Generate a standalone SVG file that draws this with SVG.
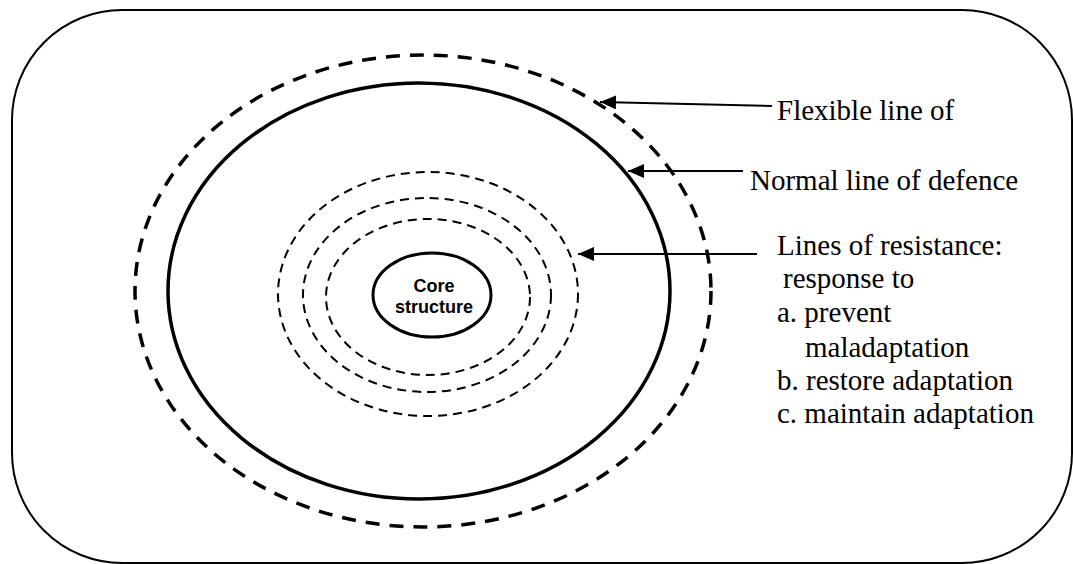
<svg xmlns="http://www.w3.org/2000/svg" width="1073" height="564" viewBox="0 0 1073 564">
  <style>
    .frame { fill: #fff; stroke: #000; stroke-width: 2; }
    .flex { fill: none; stroke: #000; stroke-width: 3.5; stroke-dasharray: 14 10; }
    .normal { fill: none; stroke: #000; stroke-width: 3.5; }
    .resist { fill: none; stroke: #000; stroke-width: 2; stroke-dasharray: 9 6; }
    .core { fill: #fff; stroke: #000; stroke-width: 3; }
    .lbl { font-family: "Liberation Serif", "Times New Roman", serif; font-size: 29px; fill: #000; }
    .corelbl { font-family: "Liberation Sans", Arial, sans-serif; font-size: 18px; font-weight: bold; fill: #000; text-anchor: middle; }
    .arrow { stroke: #000; stroke-width: 2; fill: none; }
  </style>
  <defs>
    <!-- filled triangular arrowhead, tip at the line end -->
    <marker id="head" viewBox="0 0 16 14" refX="16" refY="7" markerWidth="16" markerHeight="14" markerUnits="userSpaceOnUse" orient="auto">
      <path d="M16,7 L0,0 L0,14 Z" fill="#000"/>
    </marker>
  </defs>

  <!-- outer boundary -->
  <rect id="boundary" class="frame" x="12" y="10" width="1060" height="553" rx="110" ry="110"/>

  <!-- concentric lines -->
  <g id="flexible-line"><ellipse class="flex" cx="423" cy="291" rx="288" ry="236"/></g>
  <g id="normal-line"><ellipse class="normal" cx="419" cy="291" rx="251" ry="208"/></g>
  <g id="resistance-lines">
    <ellipse class="resist" cx="428" cy="294" rx="150" ry="122"/>
    <ellipse class="resist" cx="427" cy="295" rx="124" ry="97"/>
    <ellipse class="resist" cx="428" cy="297" rx="102" ry="78"/>
  </g>
  <g id="core">
    <ellipse class="core" cx="432" cy="295" rx="59" ry="42"/>
    <text class="corelbl" x="434" y="292">Core</text>
    <text class="corelbl" x="434" y="313">structure</text>
  </g>

  <!-- connectors -->
  <g id="connectors">
    <line class="arrow" x1="772" y1="106" x2="600" y2="102" marker-end="url(#head)"/>
    <line class="arrow" x1="743" y1="171" x2="628" y2="171" marker-end="url(#head)"/>
    <line class="arrow" x1="757" y1="254" x2="578" y2="254" marker-end="url(#head)"/>
  </g>

  <!-- labels -->
  <g id="label-flexible"><text class="lbl" x="777" y="120">Flexible line of</text></g>
  <g id="label-normal"><text class="lbl" x="750" y="190">Normal line of defence</text></g>
  <g id="label-resistance">
    <text class="lbl" x="777" y="255">Lines of resistance:</text>
    <text class="lbl" x="783" y="288">response to</text>
    <text class="lbl" x="777" y="322">a. prevent</text>
    <text class="lbl" x="805" y="357">maladaptation</text>
    <text class="lbl" x="777" y="390">b. restore adaptation</text>
    <text class="lbl" x="777" y="423">c. maintain adaptation</text>
  </g>
</svg>
